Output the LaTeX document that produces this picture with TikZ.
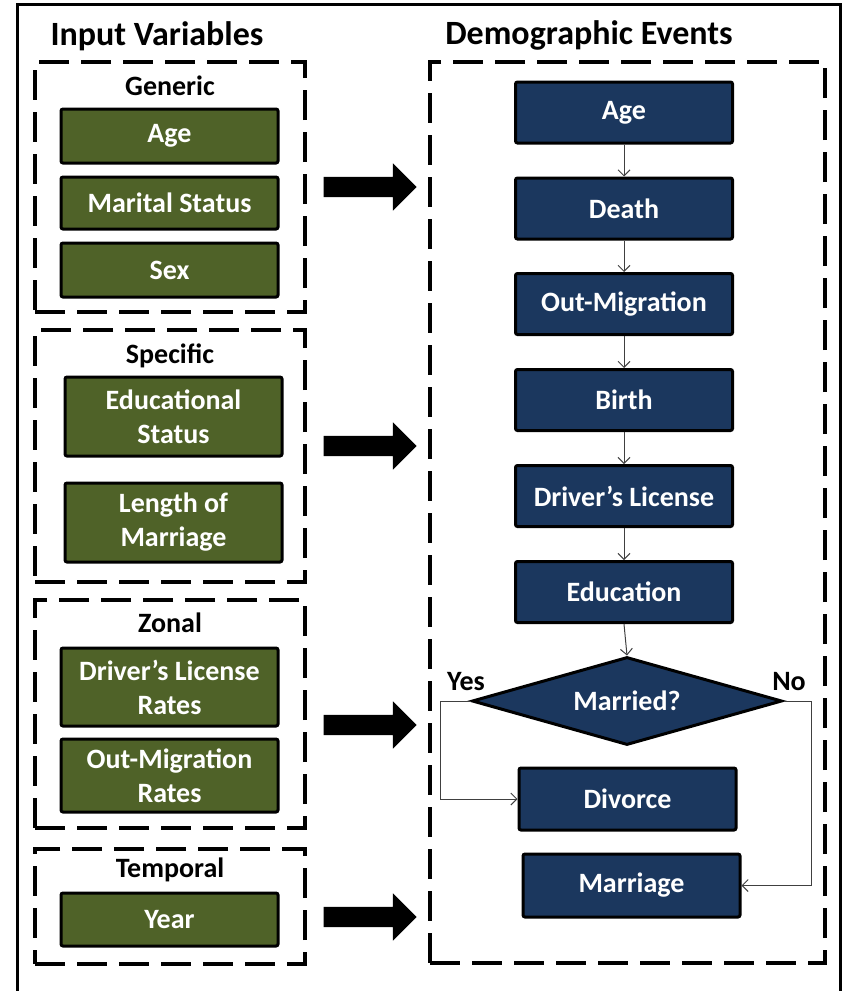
\documentclass[tikz,border=0pt]{standalone}
\usepackage{fontspec}
\setmainfont{Carlito}
\usetikzlibrary{shapes.geometric,shapes.arrows,arrows.meta}

\definecolor{olivebox}{HTML}{4F6228}
\definecolor{navybox}{HTML}{1B375E}
\definecolor{linkgray}{HTML}{404040}

\begin{document}
\begin{tikzpicture}[x=1pt,y=-1pt,
  every node/.style={font=\fontsize{28}{34}\selectfont\bfseries},
  heading/.style={font=\fontsize{34}{40}\selectfont\bfseries, anchor=base},
  grouptitle/.style={anchor=base},
  group/.style={draw, line width=3.3pt, dash pattern=on 30pt off 12pt, inner sep=0pt},
  invar/.style={draw, line width=3pt, rounded corners=2pt, fill=olivebox, text=white,
    minimum width=217pt, align=center, inner sep=2pt},
  event/.style={invar, fill=navybox},
  decision/.style={draw, diamond, line width=3pt, fill=navybox, text=white,
    minimum width=310pt, minimum height=88pt, aspect=3.5, inner sep=0pt},
  feed/.style={single arrow, fill=black, inner xsep=0pt, inner ysep=10pt,
    single arrow head extend=13.5pt, single arrow head indent=0pt, minimum height=93pt},
  flow/.style={draw=linkgray, line width=1pt, -{Straight Barb[length=6pt,width=12pt]}}
]
\clip (0,0) rectangle (844,991);
% frame, open at the bottom
\draw[line width=3pt] (17,1000) -- (17,4.5) -- (840,4.5) -- (840,1000);

\node[heading] (invhead) at (157,45) {Input Variables};
\node[heading] (evhead) at (589,44) {Demographic Events};

% input groups
\node[group, minimum width=270pt, minimum height=250pt] (generic) at (170,187) {};
\node[grouptitle] (generictitle) at (170,95) {Generic};
\node[invar, minimum height=54pt] (invage) at (169.5,136) {Age};
\node[invar, minimum height=52pt] (invmarital) at (169.5,203) {Marital Status};
\node[invar, minimum height=54pt] (invsex) at (169.5,270) {Sex};

\node[group, minimum width=270pt, minimum height=252pt] (specific) at (170,456) {};
\node[grouptitle] (specifictitle) at (170,363) {Specific};
\node[invar, minimum height=79pt] (invedu) at (173.5,416.5) {Educational\\Status};
\node[invar, minimum height=79pt] (invlength) at (173.5,522.5) {Length of\\Marriage};

\node[group, minimum width=270pt, minimum height=228pt] (zonal) at (170,714) {};
\node[grouptitle] (zonaltitle) at (170,632) {Zonal};
\node[invar, minimum height=78pt] (invlicense) at (169.5,687) {Driver’s License\\Rates};
\node[invar, minimum height=73pt] (invoutmig) at (169.5,775.5) {Out-Migration\\Rates};

\node[group, minimum width=270pt, minimum height=115pt] (temporal) at (170,906.5) {};
\node[grouptitle] (temporaltitle) at (170,877) {Temporal};
\node[invar, minimum height=53pt] (invyear) at (169.5,919.5) {Year};

% feeding arrows
\node[feed] (feedgeneric) at (365,187) {};
\node[feed] (feedspecific) at (365,446) {};
\node[feed] (feedzonal) at (365,725) {};
\node[feed] (feedtemporal) at (365,917) {};

% demographic events
\node[group, minimum width=395pt, minimum height=901pt] (events) at (627.5,512.5) {};
\node[event, minimum height=61pt] (age) at (624,112.5) {Age};
\node[event, minimum height=61pt] (death) at (624,208.5) {Death};
\node[event, minimum height=61pt] (outmig) at (624,304) {Out-Migration};
\node[event, minimum height=61pt] (birth) at (624,400) {Birth};
\node[event, minimum height=61pt] (license) at (624,496) {Driver’s License};
\node[event, minimum height=61pt] (education) at (624,592) {Education};
\node[decision] (married) at (627,701) {Married?};
\node[grouptitle] (yes) at (466,690) {Yes};
\node[grouptitle] (no) at (789,690) {No};
\node[event, minimum height=62pt] (divorce) at (627.5,799) {Divorce};
\node[event, minimum height=63pt] (marriage) at (631.5,885.5) {Marriage};

\draw[flow] (age) -- (death);
\draw[flow] (death) -- (outmig);
\draw[flow] (outmig) -- (birth);
\draw[flow] (birth) -- (license);
\draw[flow] (license) -- (education);
\draw[flow] (education.south) -- (married.north);
\draw[flow] (married.west) -- ++(-30,0) |- (divorce.west);
\draw[flow] (married.east) -- ++(28,0) |- (marriage.east);
\end{tikzpicture}
\end{document}
